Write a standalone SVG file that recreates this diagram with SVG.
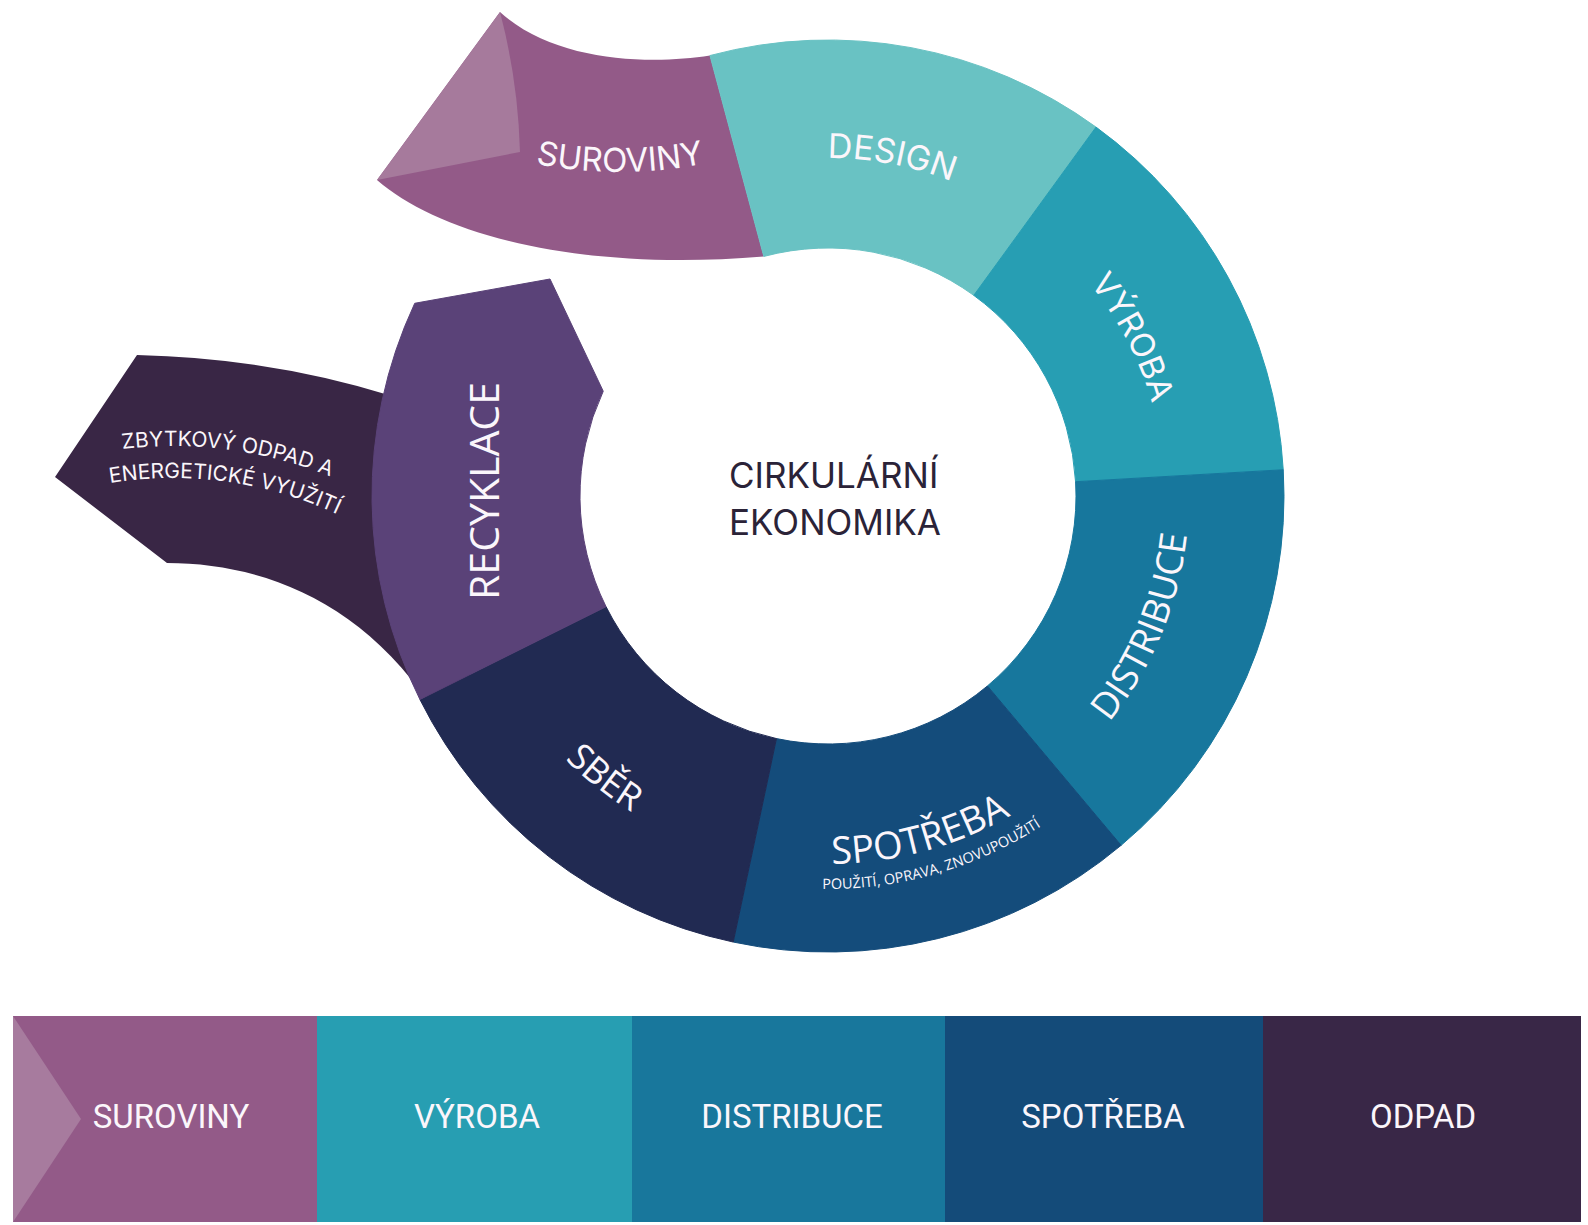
<svg xmlns="http://www.w3.org/2000/svg" width="1588" height="1225" viewBox="0 0 1588 1225">
<style>
.geo{font-family:Inter,"Liberation Sans",sans-serif;fill:#fbf6fb}
.hum{font-family:"Open Sans","Liberation Sans",sans-serif;fill:#fbf6fb}
.bar{font-family:Roboto,"Liberation Sans",sans-serif;font-size:33px;fill:#fbf6fb;text-anchor:middle}
.seg{stroke-width:1}
</style>
<defs>
<path id="pZ1" d="M-53.7,512.1 A422,422 0 0 1 484.1,582.9"/>
<path id="pZ2" d="M-34.8,538 A390,390 0 0 1 461.9,606"/>
<path id="pSur" d="M470,145 A430,430 0 0 0 770,145"/>
<path id="pDes" d="M662.59,201.24 A338,338 0 0 1 1089.56,281.92"/>
<path id="pVyr" d="M956.97,184.65 A337,337 0 0 1 1157.02,568.94"/>
<path id="pDis" d="M994.69,816.21 A361,361 0 0 0 1172.29,387.44"/>
<path id="pSpo" d="M673.64,830.06 A368,368 0 0 0 1130.18,706.02"/>
<path id="pSub" d="M668.15,855.03 A393,393 0 0 0 1153.81,715.76"/>
<path id="pSber" d="M463.6,570.8 A372,372 0 0 0 838.39,867.86"/>
</defs>

<g id="zbytkovy">
<path d="M137,355 Q270,358 392,396 L470,396 L470,705 L430,705 C360,600 260,563 167,563 L55,477 Z" fill="#392645"/>
<text class="geo" font-size="21"><textPath href="#pZ1" startOffset="50%" text-anchor="middle">ZBYTKOVÝ ODPAD A</textPath></text>
<text class="geo" font-size="21"><textPath href="#pZ2" startOffset="50%" text-anchor="middle">ENERGETICKÉ VYUŽITÍ</textPath></text>
</g>

<g id="suroviny">
<path d="M709.98,55.54 C650,65 555,62 500,12 L377,180 C440,235 580,272 763.81,256.45 Z" fill="#935A88"/>
<path d="M500,12 Q518,80 520,152 L377,180 Z" fill="#A67A9C"/>
<text class="geo" font-size="33"><textPath href="#pSur" startOffset="50%" text-anchor="middle">SUROVINY</textPath></text>
</g>

<g id="design">
<path class="seg" d="M709.98,55.54 A456,456 0 0 1 1096.03,127.09 L973.77,295.36 A248,248 0 0 0 763.81,256.45 Z" fill="#69C2C3" stroke="#69C2C3"/>
<text class="geo" font-size="34"><textPath href="#pDes" startOffset="50%" text-anchor="middle">DESIGN</textPath></text>
</g>

<g id="vyroba">
<path class="seg" d="M1096.03,127.09 A456,456 0 0 1 1283.24,469.75 L1075.59,481.72 A248,248 0 0 0 973.77,295.36 Z" fill="#279EB3" stroke="#279EB3"/>
<text class="geo" font-size="33"><textPath href="#pVyr" startOffset="50%" text-anchor="middle">VÝROBA</textPath></text>
</g>

<g id="distribuce">
<path class="seg" d="M1283.24,469.75 A456,456 0 0 1 1121.11,845.32 L987.41,685.98 A248,248 0 0 0 1075.59,481.72 Z" fill="#17779D" stroke="#17779D"/>
<text class="hum" font-size="37"><textPath href="#pDis" startOffset="50%" text-anchor="middle">DISTRIBUCE</textPath></text>
</g>

<g id="spotreba">
<path class="seg" d="M1121.11,845.32 A456,456 0 0 1 733.19,942.04 L776.44,738.58 A248,248 0 0 0 987.41,685.98 Z" fill="#144C7B" stroke="#144C7B"/>
<text class="hum" font-size="38"><textPath href="#pSpo" startOffset="50%" text-anchor="middle">SPOTŘEBA</textPath></text>
<text class="hum" font-size="14.5"><textPath href="#pSub" startOffset="50%" text-anchor="middle">POUŽITÍ, OPRAVA, ZNOVUPOUŽITÍ</textPath></text>
</g>

<g id="sber">
<path class="seg" d="M733.19,942.04 A456,456 0 0 1 419.91,699.47 L606.06,606.66 A248,248 0 0 0 776.44,738.58 Z" fill="#212A52" stroke="#212A52"/>
<text class="hum" font-size="36"><textPath href="#pSber" startOffset="50%" text-anchor="middle">SBĚR</textPath></text>
</g>

<g id="recyklace">
<path class="seg" d="M419.91,699.47 A456,456 0 0 1 414.72,303.29 L550,279 L603.24,391.19 A248,248 0 0 0 606.06,606.66 Z" fill="#5A4278" stroke="#5A4278"/>
<text class="hum" font-size="41" text-anchor="middle" transform="translate(499,491) rotate(-90)">RECYKLACE</text>
</g>

<g id="connectors"></g>

<g id="center">
<text font-family="Inter,'Liberation Sans',sans-serif" font-size="35" fill="#2B2338"><tspan x="729" y="488">CIRKULÁRNÍ</tspan><tspan x="729" y="535">EKONOMIKA</tspan></text>
</g>

<g id="legend">
<g id="leg-suroviny">
<rect x="13" y="1016" width="304" height="206" fill="#935A88"/>
<path d="M13,1016 L81,1119 L13,1222 Z" fill="#A77B9E"/>
<text class="bar" x="171" y="1128">SUROVINY</text>
</g>
<g id="leg-vyroba">
<rect x="317" y="1016" width="315" height="206" fill="#279EB2"/>
<text class="bar" x="477" y="1128">VÝROBA</text>
</g>
<g id="leg-distribuce">
<rect x="632" y="1016" width="313" height="206" fill="#18779C"/>
<text class="bar" x="792" y="1128">DISTRIBUCE</text>
</g>
<g id="leg-spotreba">
<rect x="945" y="1016" width="318" height="206" fill="#144B79"/>
<text class="bar" x="1103" y="1128">SPOTŘEBA</text>
</g>
<g id="leg-odpad">
<rect x="1263" y="1016" width="318" height="206" fill="#392747"/>
<text class="bar" x="1423" y="1128">ODPAD</text>
</g>
</g>
</svg>
